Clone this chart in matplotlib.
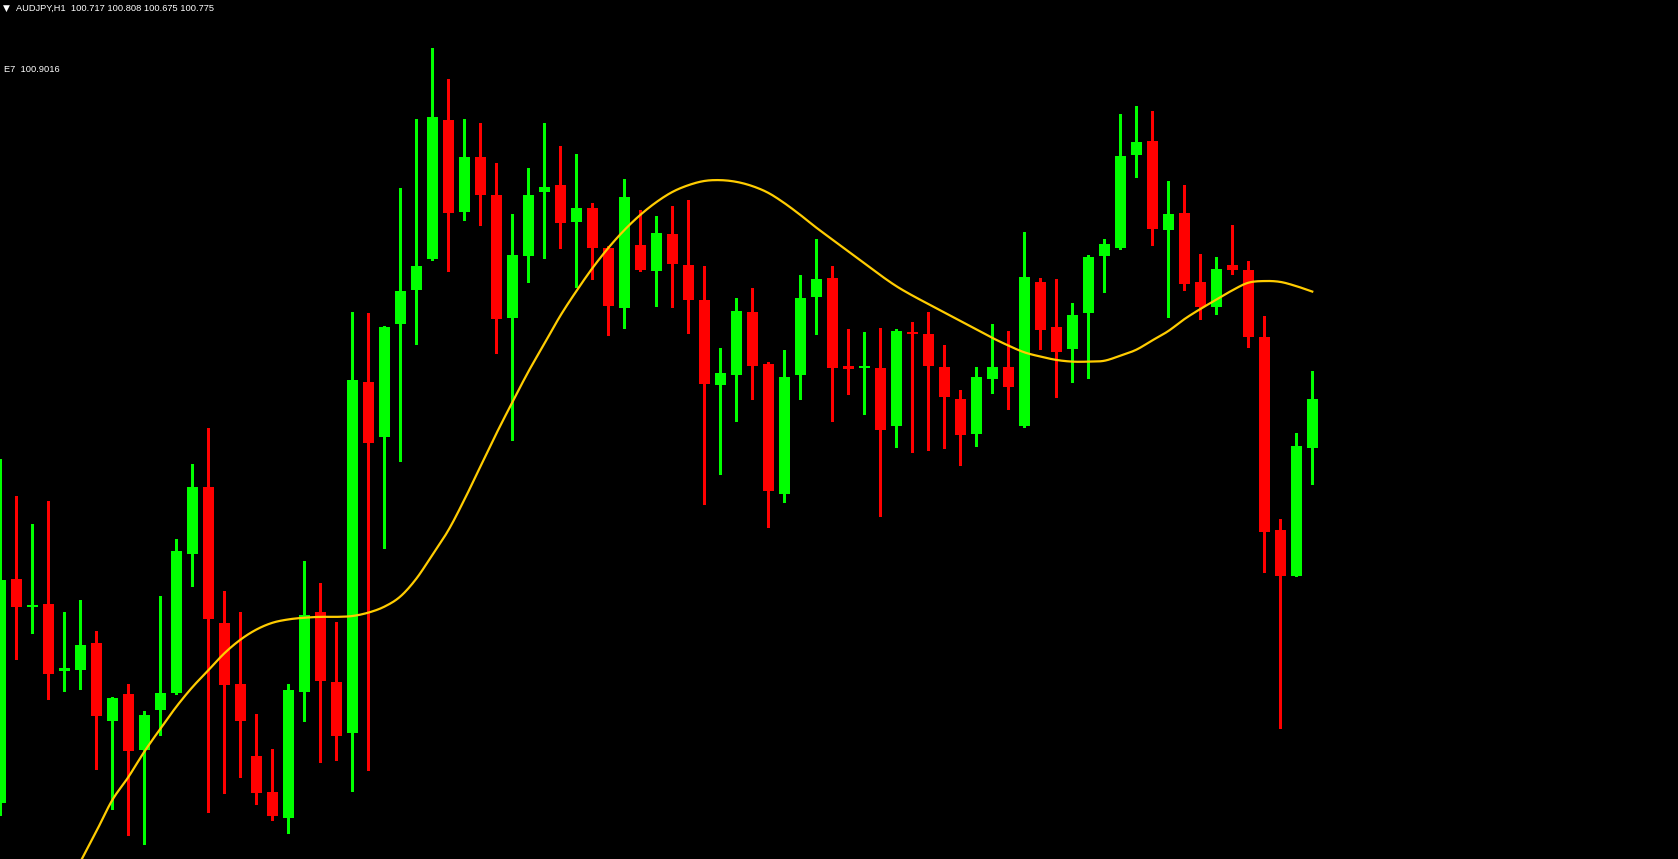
import numpy as np
import matplotlib
matplotlib.use("Agg")
import matplotlib.pyplot as plt

symbol_label = "AUDJPY,H1  100.717 100.808 100.675 100.775"
ema_label = "E7  100.9016"

opens = [100.299, 100.563, 100.530, 100.533, 100.454, 100.455, 100.487, 100.395, 100.427, 100.361,
         100.408, 100.428, 100.592, 100.671, 100.511, 100.439, 100.354, 100.311, 100.281, 100.429,
         100.524, 100.441, 100.381, 100.795, 100.730, 100.863, 100.903, 100.940, 101.104, 100.995,
         101.060, 101.015, 100.870, 100.944, 101.019, 101.027, 100.984, 101.000, 100.953, 100.882,
         100.957, 100.926, 100.969, 100.933, 100.892, 100.791, 100.803, 100.877, 100.816, 100.663,
         100.803, 100.895, 100.918, 100.814, 100.811, 100.811, 100.743, 100.854, 100.852, 100.813,
         100.775, 100.734, 100.798, 100.813, 100.743, 100.913, 100.860, 100.834, 100.876, 100.944,
         100.953, 101.063, 101.079, 100.974, 100.994, 100.913, 100.883, 100.933, 100.927, 100.848,
         100.620, 100.566, 100.717]

closes = [100.562, 100.530, 100.532, 100.451, 100.458, 100.485, 100.401, 100.422, 100.360, 100.402,
          100.428, 100.596, 100.671, 100.515, 100.438, 100.395, 100.310, 100.283, 100.432, 100.520,
          100.442, 100.378, 100.797, 100.723, 100.860, 100.902, 100.932, 101.107, 100.994, 101.060,
          101.015, 100.869, 100.945, 101.015, 101.025, 100.982, 101.000, 100.953, 100.885, 101.013,
          100.927, 100.971, 100.934, 100.892, 100.793, 100.806, 100.879, 100.814, 100.666, 100.801,
          100.894, 100.916, 100.811, 100.810, 100.814, 100.738, 100.855, 100.852, 100.814, 100.777,
          100.732, 100.801, 100.813, 100.789, 100.919, 100.856, 100.830, 100.874, 100.942, 100.958,
          101.061, 101.078, 100.975, 100.993, 100.911, 100.883, 100.928, 100.927, 100.848, 100.618,
          100.566, 100.719, 100.775]

highs = [100.704, 100.661, 100.628, 100.655, 100.524, 100.538, 100.501, 100.424, 100.439, 100.407,
         100.543, 100.610, 100.698, 100.741, 100.548, 100.524, 100.403, 100.362, 100.439, 100.584,
         100.558, 100.512, 100.877, 100.876, 100.861, 101.024, 101.105, 101.189, 101.152, 101.105,
         101.100, 101.053, 100.993, 101.047, 101.100, 101.073, 101.064, 101.006, 100.955, 101.034,
         100.998, 100.991, 101.002, 101.010, 100.932, 100.835, 100.894, 100.906, 100.819, 100.833,
         100.921, 100.964, 100.932, 100.857, 100.854, 100.859, 100.857, 100.866, 100.877, 100.839,
         100.786, 100.813, 100.863, 100.855, 100.972, 100.918, 100.916, 100.888, 100.945, 100.964,
         101.111, 101.120, 101.115, 101.032, 101.027, 100.946, 100.942, 100.980, 100.938, 100.873,
         100.633, 100.735, 100.808]

lows = [100.284, 100.468, 100.499, 100.421, 100.431, 100.433, 100.339, 100.291, 100.261, 100.250,
        100.379, 100.427, 100.554, 100.288, 100.310, 100.329, 100.297, 100.278, 100.263, 100.395,
        100.347, 100.349, 100.313, 100.337, 100.599, 100.702, 100.840, 100.939, 100.926, 100.986,
        100.980, 100.829, 100.727, 100.913, 100.941, 100.953, 100.907, 100.916, 100.850, 100.859,
        100.926, 100.885, 100.883, 100.853, 100.651, 100.686, 100.749, 100.775, 100.624, 100.653,
        100.775, 100.852, 100.749, 100.781, 100.757, 100.637, 100.718, 100.712, 100.715, 100.717,
        100.697, 100.719, 100.782, 100.763, 100.742, 100.834, 100.777, 100.795, 100.800, 100.901,
        100.952, 101.037, 100.957, 100.872, 100.903, 100.869, 100.875, 100.922, 100.836, 100.571,
        100.387, 100.566, 100.675]

nan = float("nan")
ema = [nan, nan, nan, nan, nan,
       100.229, 100.265, 100.302, 100.329, 100.359,
       100.386, 100.412, 100.435, 100.455, 100.475, 100.491, 100.503, 100.511, 100.515, 100.517,
       100.518, 100.518, 100.519, 100.523, 100.530, 100.542, 100.563, 100.591, 100.620, 100.656,
       100.695, 100.734, 100.771, 100.807, 100.840, 100.873, 100.902, 100.929, 100.953, 100.974,
       100.992, 101.007, 101.019, 101.027, 101.032, 101.033, 101.031, 101.026, 101.018, 101.006,
       100.992, 100.977, 100.963, 100.949, 100.935, 100.921, 100.908, 100.897, 100.887, 100.877,
       100.867, 100.857, 100.847, 100.838, 100.830, 100.825, 100.821, 100.819, 100.819, 100.820,
       100.826, 100.833, 100.844, 100.855, 100.869, 100.881, 100.892, 100.903, 100.912, 100.914,
       100.913, 100.908, 100.9016]

UP = "#00FF00"
DOWN = "#FF0000"
EMA_COLOR = "#FFCC00"

o = np.array(opens)
c = np.array(closes)
h = np.array(highs)
l = np.array(lows)
x = np.arange(len(o))


def catmull_rom(xs, ys, n=12):
    """Smooth curve through the given points (Catmull-Rom)."""
    xs = np.asarray(xs, float)
    ys = np.asarray(ys, float)
    P = np.column_stack([xs, ys])
    P = np.vstack([2 * P[0] - P[1], P, 2 * P[-1] - P[-2]])
    out = []
    t = np.linspace(0, 1, n, endpoint=False)[:, None]
    for k in range(1, len(P) - 2):
        p0, p1, p2, p3 = P[k - 1], P[k], P[k + 1], P[k + 2]
        seg = 0.5 * ((2 * p1) + (-p0 + p2) * t + (2 * p0 - 5 * p1 + 4 * p2 - p3) * t ** 2
                     + (-p0 + 3 * p1 - 3 * p2 + p3) * t ** 3)
        out.append(seg)
    out.append(P[-2][None, :])
    out = np.vstack(out)
    return out[:, 0], out[:, 1]


fig = plt.figure(figsize=(16.78, 8.59), dpi=100, facecolor="black")
ax = fig.add_axes([0, 0, 1, 1])
ax.set_facecolor("black")

colors = [UP if cc >= oo else DOWN for oo, cc in zip(o, c)]
ax.vlines(x, l, h, colors=colors, linewidth=0.75, antialiased=False, zorder=2)
bottom = np.minimum(o, c)
height = np.maximum(np.abs(c - o), 0.0018)
ax.bar(x, height, bottom=bottom, width=0.6875, color=colors, linewidth=0,
       antialiased=False, zorder=3)

e = np.array(ema)
valid = ~np.isnan(e)
sx, sy = catmull_rom(x[valid], e[valid])
ax.plot(sx, sy, color=EMA_COLOR, linewidth=1.6, zorder=4, solid_joinstyle="round")

ax.set_xlim(-0.019, 104.86)
ax.set_ylim(100.2325, 101.2454)
ax.axis("off")

fam = ["Liberation Sans", "DejaVu Sans"]
fig.text(3 / 1678, 1 - 8 / 859, "\u25BC", color="white", fontsize=6.5,
         family=["DejaVu Sans"], va="center", ha="left")
fig.text(15.5 / 1678, 1 - 8 / 859, symbol_label, color="white", fontsize=6.7,
         family=fam, va="center", ha="left")
fig.text(4 / 1678, 1 - 70 / 859, ema_label, color="white", fontsize=6.7,
         family=fam, va="center", ha="left")

fig.savefig("out.png", dpi=100, facecolor="black")
